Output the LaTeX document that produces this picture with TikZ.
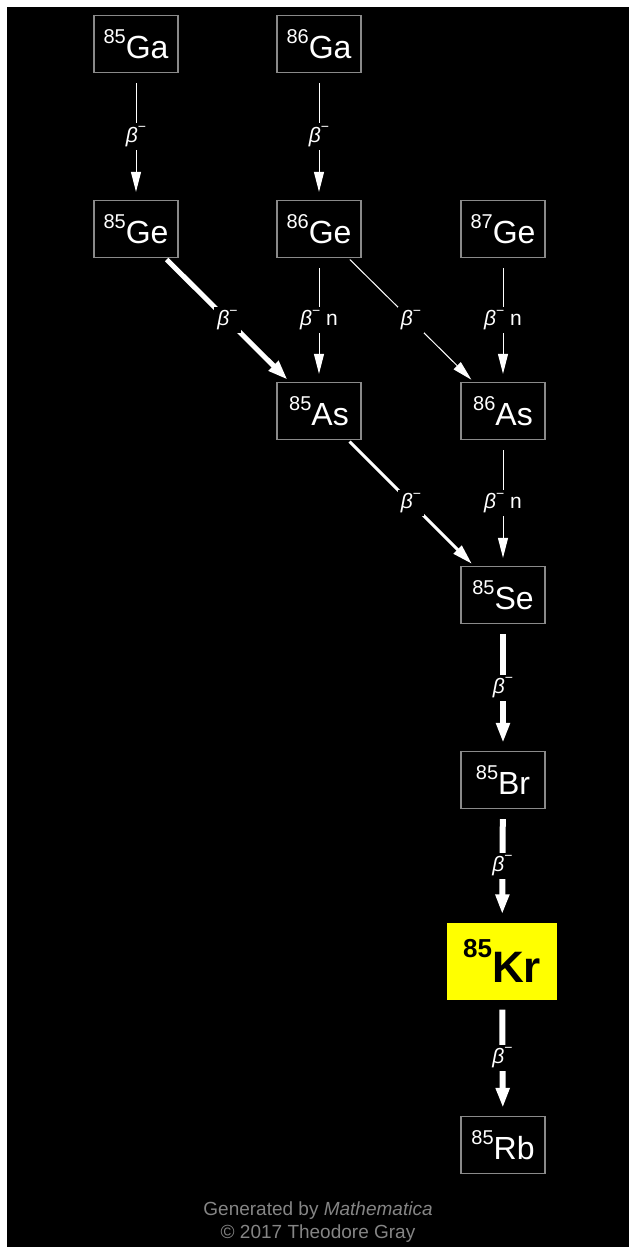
\documentclass[tikz,border=0pt]{standalone}
\usepackage{fontspec}
\setmainfont{Liberation Sans}
\usetikzlibrary{arrows.meta}
\definecolor{boxgray}{HTML}{8A8A8A}
\definecolor{credit}{HTML}{858585}
\definecolor{kryellow}{HTML}{FFFF00}
\newcommand\isotope[2]{\raisebox{15pt}{\fontsize{20}{20}\selectfont #1}\fontsize{32}{32}\selectfont #2}
\newcommand\bigisotope[2]{\bfseries\raisebox{25pt}{\fontsize{26}{26}\selectfont #1}\fontsize{44}{44}\selectfont #2}
\newcommand\betam{\textit{β}\raisebox{0.5em}{\fontsize{14}{14}\selectfont −}}
\begin{document}
\begin{tikzpicture}[x=1pt,y=-1pt,
  nuc/.style={draw=boxgray, line width=1.3pt, minimum width=84pt, minimum height=57pt, inner sep=0pt, text=white},
  stable/.style={fill=kryellow, minimum width=110pt, minimum height=77pt, inner sep=0pt, text=black},
  decthin/.style={draw=white, line width=1pt, -{Triangle[length=20pt,width=10pt]}},
  decmed/.style={draw=white, line width=3pt, -{Triangle[length=20pt,width=11pt]}},
  decthick/.style={draw=white, line width=6pt, -{Triangle[length=20pt,width=13pt]}},
  vert/.style={shorten <=10pt, shorten >=8pt},
  diag/.style={shorten <=2pt, shorten >=3pt},
  lab/.style={fill=black, text=white, inner sep=3pt, font=\fontsize{21}{21}\selectfont},
  creditstyle/.style={text=credit, font=\fontsize{19}{23}\selectfont, align=center}
]
\useasboundingbox (0,0) rectangle (629,1247);
\fill[white] (0,0) rectangle (629,1247);
\fill[black] (7,7) rectangle (629,1247);

\node[nuc] (ga85) at (136,44) {\isotope{85}{Ga}};
\node[nuc] (ga86) at (319,44) {\isotope{86}{Ga}};
\node[nuc] (ge85) at (136,229) {\isotope{85}{Ge}};
\node[nuc] (ge86) at (319,229) {\isotope{86}{Ge}};
\node[nuc] (ge87) at (503,229) {\isotope{87}{Ge}};
\node[nuc] (as85) at (319,411) {\isotope{85}{As}};
\node[nuc] (as86) at (503,411) {\isotope{86}{As}};
\node[nuc] (se85) at (503,595) {\isotope{85}{Se}};
\node[nuc] (br85) at (503,780) {\isotope{85}{Br}};
\node[stable] (kr85) at (502,961) {\bigisotope{85}{Kr}};
\node[nuc] (rb85) at (503,1145) {\isotope{85}{Rb}};

\draw[decthin,vert] (ga85) -- node[lab] {\betam} (ge85);
\draw[decthin,vert] (ga86) -- node[lab] {\betam} (ge86);
\draw[decthick,diag,line width=5pt] (ge85) -- node[lab] {\betam} (as85);
\draw[decthin,vert] (ge86) -- node[lab] {\betam\ n} (as85);
\draw[decthin,diag] (ge86) -- node[lab] {\betam} (as86);
\draw[decthin,vert] (ge87) -- node[lab] {\betam\ n} (as86);
\draw[decmed,diag] (as85) -- node[lab] {\betam} (se85);
\draw[decthin,vert] (as86) -- node[lab] {\betam\ n} (se85);
\draw[decthick,vert] (se85) -- node[lab] {\betam} (br85);
\draw[decthick,vert] (br85) -- node[lab] {\betam} (kr85);
\draw[decthick,vert] (kr85) -- node[lab] {\betam} (rb85);

\node[creditstyle] (credit) at (318,1222) {Generated by \textit{Mathematica}\\© 2017 Theodore Gray};
\end{tikzpicture}
\end{document}
